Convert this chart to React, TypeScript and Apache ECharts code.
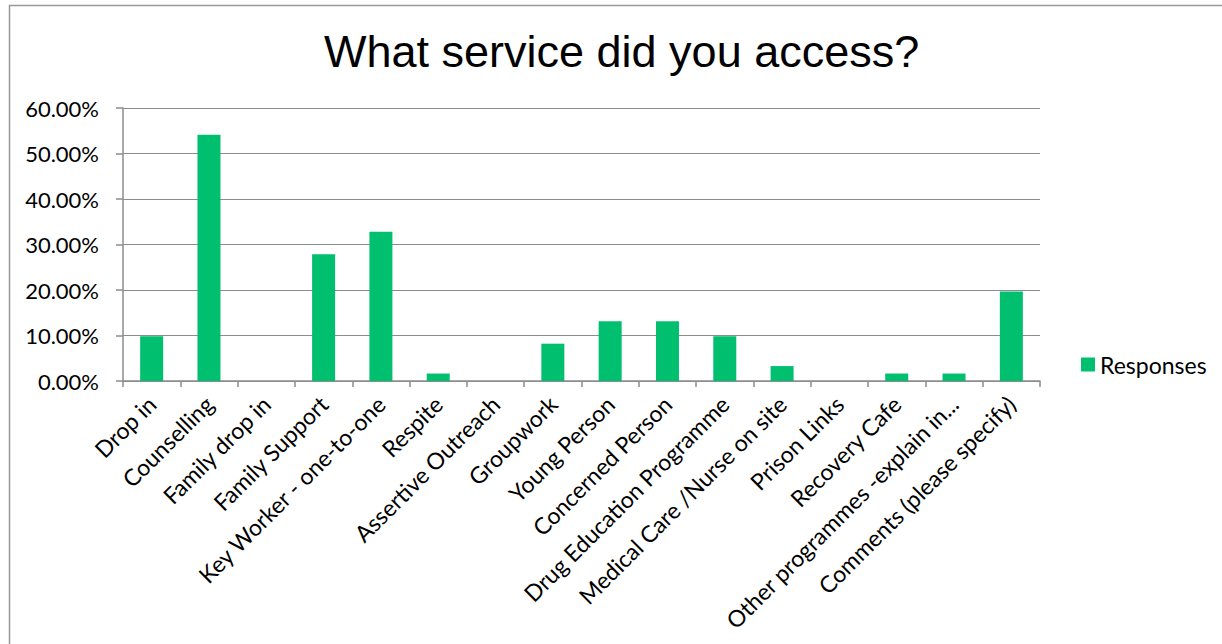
import React, { useEffect, useRef } from "react";
import * as echarts from "echarts";

const categories: string[] = [
  "Drop in",
  "Counselling",
  "Family drop in",
  "Family Support",
  "Key Worker - one-to-one",
  "Respite",
  "Assertive Outreach",
  "Groupwork",
  "Young Person",
  "Concerned Person",
  "Drug Education Programme",
  "Medical Care /Nurse on site",
  "Prison Links",
  "Recovery Cafe",
  "Other programmes -explain in...",
  "Comments (please specify)",
];

const responses: number[] = [
  9.84, 54.1, 0, 27.87, 32.79, 1.64, 0, 8.2, 13.11, 13.11, 9.84, 3.28, 0, 1.64, 1.64, 19.67,
];

const seriesName = "Responses";
const titleText = "What service did you access?";

export default function App() {
  const ref = useRef<HTMLDivElement>(null);

  useEffect(() => {
    if (!ref.current) return;
    const chart = echarts.init(ref.current, undefined, { renderer: "svg" });
    const axisGray = "#8c8c8c";
    chart.setOption({
      animation: false,
      backgroundColor: "#ffffff",
      title: {
        text: titleText,
        left: 319,
        top: 24,
        textStyle: {
          fontFamily: "Liberation Sans",
          fontSize: 45,
          fontWeight: "normal",
          color: "#000000",
        },
      },
      legend: {
        data: [seriesName],
        orient: "vertical",
        left: 1076,
        top: 348,
        itemWidth: 14,
        itemHeight: 14,
        itemGap: 8,
        icon: "rect",
        textStyle: { fontFamily: "Lato", fontSize: 23, color: "#000000" },
      },
      graphic: [
        {
          type: "rect",
          shape: { x: 9.5, y: 5.5, width: 1400, height: 800 },
          style: { fill: "none", stroke: "#999999", lineWidth: 1.5 },
          silent: true,
        },
      ],
      grid: { left: 123, right: 182, top: 108, bottom: 263 },
      xAxis: {
        type: "category",
        data: categories,
        axisLine: { show: true, lineStyle: { color: axisGray, width: 1.5 } },
        axisTick: { show: true, interval: 0, length: 6, lineStyle: { color: axisGray, width: 1.5 } },
        axisLabel: {
          interval: 0,
          rotate: 45,
          margin: 19,
          fontFamily: "Lato",
          fontSize: 23,
          color: "#000000",
        },
      },
      yAxis: {
        type: "value",
        min: 0,
        max: 60,
        interval: 10,
        axisLine: { show: true, lineStyle: { color: axisGray, width: 1.5 } },
        axisTick: { show: true, inside: false, length: 7, lineStyle: { color: axisGray, width: 1.5 } },
        splitLine: { show: true, lineStyle: { color: axisGray, width: 1.2 } },
        axisLabel: {
          margin: 24,
          fontFamily: "Lato",
          fontSize: 22,
          color: "#000000",
          formatter: (v: number) => v.toFixed(2) + "%",
        },
      },
      series: [
        {
          name: seriesName,
          type: "bar",
          data: responses,
          barWidth: 23,
          itemStyle: { color: "#00bf6f" },
        },
      ],
    });
    return () => chart.dispose();
  }, []);

  return (
    <div
      ref={ref}
      style={{ position: "fixed", left: 0, top: 0, width: 1222, height: 644 }}
    />
  );
}
